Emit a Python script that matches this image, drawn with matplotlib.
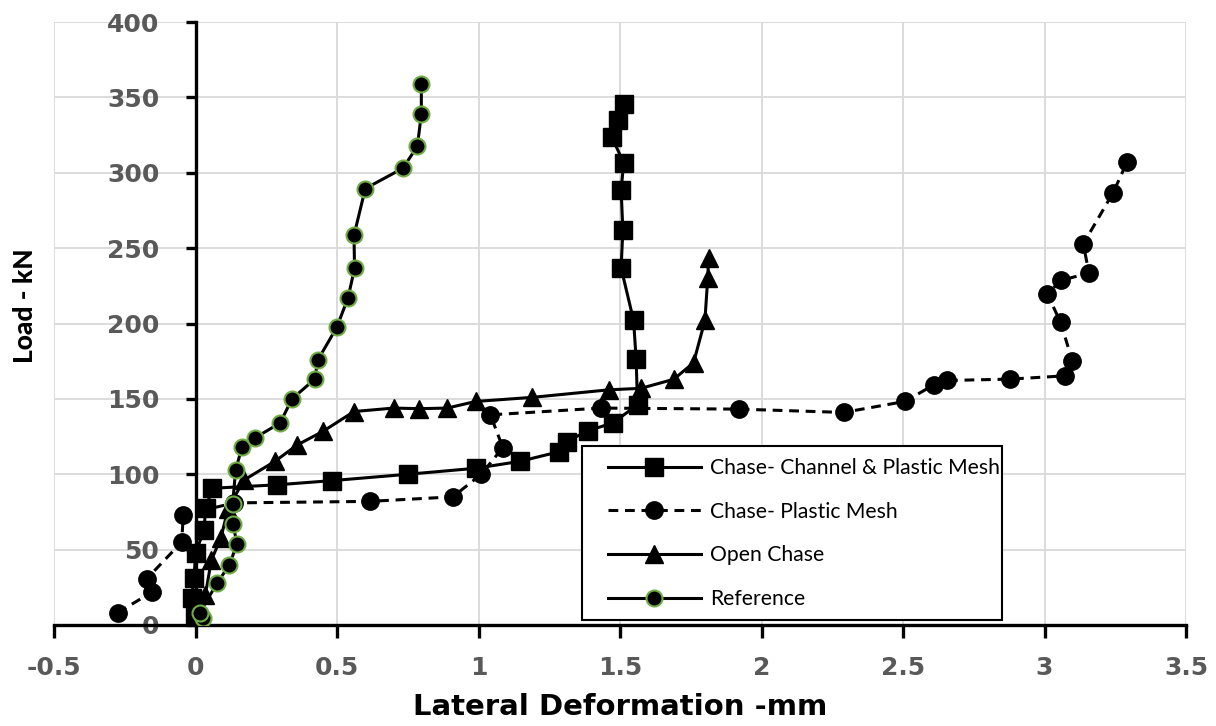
import matplotlib
matplotlib.use("Agg")
import matplotlib.pyplot as plt
from matplotlib.patches import Rectangle
import numpy as np

# data (lateral deformation in mm, load in kN)
channel_x = [-0.003, -0.014, -0.005, 0.0, 0.03, 0.036, 0.06, 0.289, 0.484, 0.751, 0.992, 1.145,
             1.286, 1.312, 1.386, 1.474, 1.562, 1.557, 1.548, 1.504, 1.51, 1.504, 1.513, 1.471,
             1.492, 1.515]
channel_y = [5, 18, 31, 47.6, 63, 77.5, 90.7, 93, 95.8, 100, 104, 108.5,
             115, 121.7, 128.8, 134, 146, 176.4, 202, 236.8, 262, 288.8, 306.5, 323.8,
             335.3, 345.3]

mesh_x = [-0.275, -0.152, -0.173, -0.049, -0.043, 0.137, 0.615, 0.909, 1.01, 1.086, 1.042, 1.433,
          1.921, 2.29, 2.507, 2.61, 2.657, 2.878, 3.074, 3.098, 3.057, 3.01, 3.059, 3.157,
          3.137, 3.242, 3.292]
mesh_y = [8.2, 22, 30.5, 55, 73, 81, 82, 85, 100, 117.7, 139.4, 143.9,
          143.2, 141, 148.3, 159.4, 162.2, 163.1, 165.3, 175.3, 200.7, 219.6, 228.6, 233.5,
          252.8, 286.6, 307.2]

open_x = [0.01, 0.035, 0.056, 0.09, 0.115, 0.17, 0.28, 0.36, 0.45, 0.56, 0.70, 0.79,
          0.89, 0.99, 1.19, 1.46, 1.574, 1.69, 1.76, 1.80, 1.81, 1.813]
open_y = [2, 20, 43, 58, 77, 96, 108.5, 119.5, 128.4, 141.6, 143.9, 143.5,
          143.9, 148.3, 151, 156, 157, 163, 174, 202, 230, 243.5]

ref_x = [0.027, 0.015, 0.077, 0.119, 0.147, 0.132, 0.131, 0.142, 0.165, 0.209, 0.299, 0.341,
         0.421, 0.433, 0.499, 0.539, 0.562, 0.560, 0.600, 0.733, 0.784, 0.798, 0.798]
ref_y = [4.4, 8.2, 28, 39.6, 53.8, 67, 80, 103, 118.4, 124, 134, 150,
         163, 176, 197.4, 217, 236.6, 258.5, 289.5, 303, 317.6, 339, 359]

labels = ["Chase- Channel & Plastic Mesh", "Chase- Plastic Mesh", "Open Chase", "Reference"]
x_ticks = [-0.5, 0, 0.5, 1, 1.5, 2, 2.5, 3, 3.5]
y_ticks = [0, 50, 100, 150, 200, 250, 300, 350, 400]

W, H = 1216, 726
fig = plt.figure(figsize=(W / 100, H / 100), dpi=100)
ax = fig.add_axes([54 / W, 1 - 625 / H, (1186 - 54) / W, (625 - 22) / H])

lw = 2.2
ax.plot(channel_x, channel_y, color="black", lw=lw, marker="s", ms=12.5, label=labels[0], zorder=3)
ax.plot(mesh_x, mesh_y, color="black", lw=lw, ls=(0, (3.2, 2.2)), marker="o", ms=12.5,
        label=labels[1], zorder=3)
ax.plot(open_x, open_y, color="black", lw=lw, marker="^", ms=13.5, label=labels[2], zorder=3)
ax.plot(ref_x, ref_y, color="black", lw=lw, marker="o", ms=11.5, mfc="black", mec="#70ad47",
        mew=1.5, label=labels[3], zorder=4)

ax.set_xlim(-0.5, 3.5)
ax.set_ylim(0, 400)
ax.set_xticks(x_ticks)
ax.set_yticks(y_ticks)
ax.set_xticklabels(["-0.5", "0", "0.5", "1", "1.5", "2", "2.5", "3", "3.5"])
ax.grid(True, color="#d9d9d9", lw=1.3, zorder=0)
ax.set_axisbelow(True)

for s in ["top", "right"]:
    ax.spines[s].set_visible(False)
ax.spines["left"].set_position(("data", 0))
ax.spines["left"].set_linewidth(2.4)
ax.spines["bottom"].set_linewidth(2.4)
ax.spines["left"].set_zorder(2)

ax.tick_params(axis="y", direction="out", length=7, width=2.4, pad=19,
               labelsize=18, labelcolor="#595959")
ax.tick_params(axis="x", direction="out", length=9, width=2.4, pad=13,
               labelsize=18, labelcolor="#595959")
for t in ax.get_xticklabels() + ax.get_yticklabels():
    t.set_fontweight("bold")
    t.set_fontfamily("DejaVu Sans")

fig.text(620 / W, 1 - 707 / H, "Lateral Deformation -mm", ha="center", va="center",
         fontsize=21, fontweight="bold", family="DejaVu Sans")
fig.text(25 / W, 1 - 306 / H, "Load - kN", rotation=90, ha="center", va="center",
         fontsize=19, fontweight=900, family="Lato")

# legend box drawn on its own so its padding can follow the picture
ax.add_patch(Rectangle((582 / W, 1 - 620 / H), (1002 - 582) / W, (620 - 446) / H,
                       transform=fig.transFigure, facecolor="white", edgecolor="black",
                       lw=1.5, zorder=4.5, clip_on=False))
leg = ax.legend(loc="upper left", bbox_to_anchor=(608 / W, 1 - 458 / H), bbox_transform=fig.transFigure,
                borderaxespad=0, borderpad=0, frameon=False,
                prop={"family": "Lato", "size": 15.2}, handlelength=4.4, handletextpad=0.45,
                labelspacing=1.12)
leg.set_zorder(5)

fig.savefig("out.png", dpi=100)
